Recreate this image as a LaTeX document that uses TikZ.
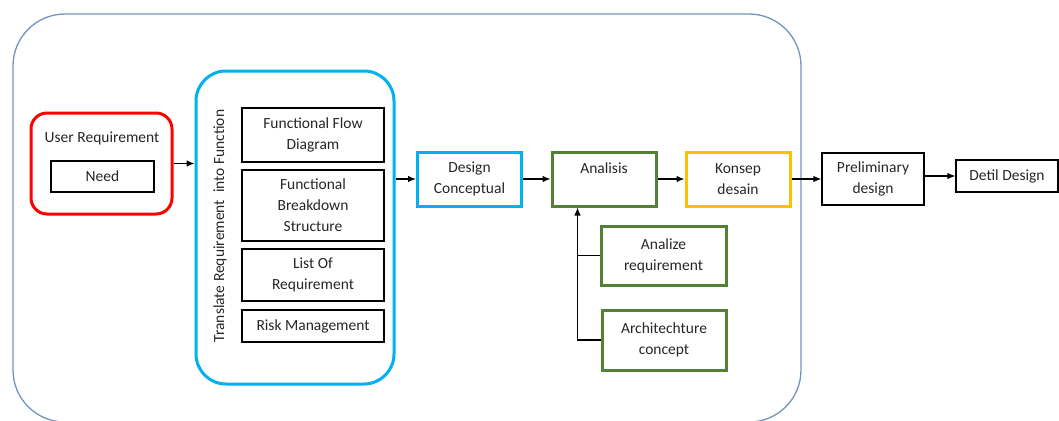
\documentclass[tikz,border=0pt]{standalone}
\usepackage{fontspec}
\setmainfont{Carlito}
\usepackage{tikz}
\usetikzlibrary{arrows,arrows.meta,positioning,calc,shapes}
\tikzset{>={Latex[length=8pt,width=6.5pt]}}
\definecolor{frameblue}{HTML}{7095BE}
\definecolor{skyblue}{HTML}{00B0F0}
\definecolor{boxgreen}{HTML}{548235}
\definecolor{boxyellow}{HTML}{FFC000}
\definecolor{txt}{HTML}{262626}
\tikzset{
  box/.style={draw,line width=1.2pt,inner sep=0pt,align=center,text=txt},
  cbox/.style={box,line width=3pt},
}

\begin{document}
\begin{tikzpicture}[x=1pt,y=-1pt,font=\fontsize{15.5}{21}\selectfont]

\useasboundingbox (0,0) rectangle (1059,420);
\clip (0,0) rectangle (1059,420);

% outer frame
\draw[frameblue,line width=1.3pt,rounded corners=52] (13,14) rectangle (801,422);

\node [cbox,draw=red,rounded corners=16,minimum width=141,minimum height=101] (ureq) at (101.5,163.5) {};
\node [text=txt] (ureqlbl) at (102,138) {User Requirement};
\node [box,minimum width=103,minimum height=31] (need) at (102.5,176.5) {Need};

\node [cbox,draw=skyblue,rounded corners=30,minimum width=198,minimum height=313] (trans) at (295,227.5) {};
\node [text=txt,rotate=90] (translbl) at (220,226) {Translate Requirement \ into Function};
\node [box,minimum width=142,minimum height=54] (ffd) at (313,135) {Functional Flow\\Diagram};
\node [box,minimum width=142,minimum height=71] (fbs) at (313,205.5) {Functional\\Breakdown\\Structure};
\node [box,minimum width=142,minimum height=52] (lor) at (313,275) {List Of\\Requirement};
\node [box,minimum width=142,minimum height=32] (risk) at (313,326) {Risk Management};

\node [cbox,draw=skyblue,minimum width=104,minimum height=54] (dc) at (469.5,179) {Design\\Conceptual};
\node [cbox,draw=boxgreen,minimum width=104,minimum height=54] (ana) at (604,179) {Analisis\\\phantom{x}};
\node [cbox,draw=boxyellow,minimum width=104,minimum height=54] (kd) at (738,179) {Konsep\\desain};
\node [box,minimum width=102,minimum height=52] (pd) at (873,179) {Preliminary\\design};
\node [box,minimum width=102,minimum height=32] (detil) at (1007,176) {Detil Design};

\node [cbox,draw=boxgreen,minimum width=125,minimum height=59] (ar) at (663.5,255.5) {Analize\\requirement};
\node [cbox,draw=boxgreen,minimum width=124,minimum height=60] (ac) at (664,340) {Architechture\\concept};

\coordinate (up) at ($(ana.south west)+(27,0)$);

\begin{scope}[line width=1.2pt]
\draw[->] (ureq.east) to (ureq.east -| trans.west);
\draw[->] (trans.east |- dc.west) to (dc.west);
\draw[->] (dc) to (ana);
\draw[->] (ana) to (kd);
\draw[->] (kd) to (pd);
\draw[->] (pd.east |- detil.west) to (detil.west);
\draw[->] (ac.west) -| (up);
\draw (ar.west) to (ar.west -| up);
\end{scope}

\end{tikzpicture}
\end{document}
